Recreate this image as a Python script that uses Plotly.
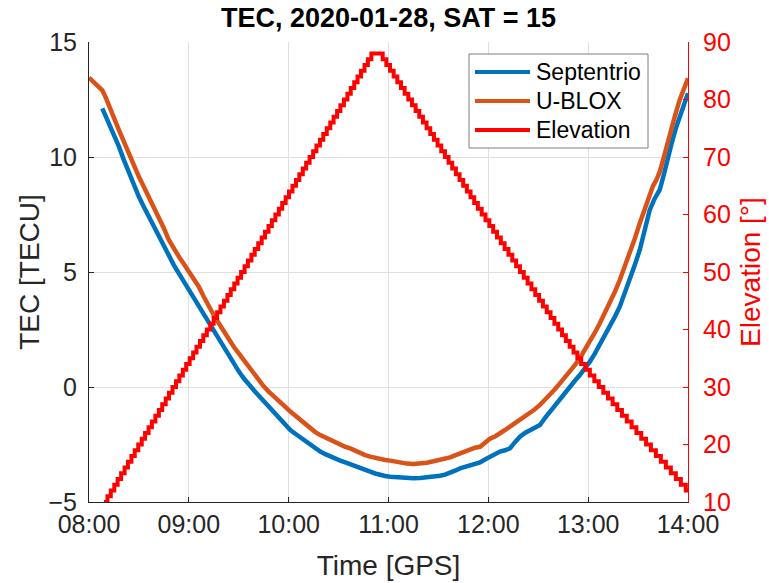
import pandas as pd
import plotly.graph_objects as go

DAY_START = pd.Timestamp("2020-01-28 08:00:00")

# --- Septentrio TEC (minutes after 08:00 GPS, TECU) ---
sept_min = [8, 10, 12, 15, 18, 21, 24, 27, 30, 33, 36, 39, 42, 45, 48, 51, 54, 57, 60,
            63, 66, 69, 72, 75, 78, 81, 84, 87, 90, 93, 96, 100, 104, 108, 112, 115, 118,
            121, 124, 127, 130, 133, 136, 139, 142, 145, 148, 151, 154, 157, 160, 163,
            166, 169, 172, 175, 178, 181, 184, 187, 191, 195, 199, 203, 207, 211, 214,
            217, 220, 223, 226, 229, 232, 235, 238, 241, 244, 247, 250, 253, 256, 259,
            262, 265, 268, 271, 274, 277, 280, 283, 286, 289, 292, 295, 298, 301, 304,
            307, 310, 313, 316, 319, 322, 325, 328, 331, 334, 337, 340, 343, 345, 347,
            350, 353, 356, 358, 360]
sept_tec = [12.11, 11.8, 11.46, 10.95, 10.45, 9.86, 9.29, 8.78, 8.27, 7.83, 7.4, 6.97,
            6.54, 6.1, 5.67, 5.3, 4.94, 4.58, 4.22, 3.85, 3.49, 3.13, 2.77, 2.4, 2.04,
            1.69, 1.34, 1.0, 0.68, 0.38, 0.11, -0.22, -0.53, -0.84, -1.16, -1.43, -1.65,
            -1.87, -2.03, -2.19, -2.36, -2.52, -2.67, -2.81, -2.92, -3.03, -3.12, -3.2,
            -3.28, -3.35, -3.42, -3.49, -3.59, -3.68, -3.76, -3.83, -3.87, -3.9, -3.92,
            -3.94, -3.96, -3.97, -3.96, -3.94, -3.9, -3.86, -3.81, -3.75, -3.64, -3.54,
            -3.48, -3.43, -3.35, -3.28, -3.15, -3.03, -2.92, -2.81, -2.75, -2.67, -2.4,
            -2.16, -2.0, -1.87, -1.77, -1.65, -1.35, -1.07, -0.82, -0.57, -0.28, 0.01,
            0.27, 0.52, 0.8, 1.1, 1.45, 1.83, 2.22, 2.62, 3.05, 3.49, 4.05, 4.65, 5.3,
            5.96, 6.85, 7.7, 8.2, 8.57, 9.1, 9.72, 10.55, 11.32, 11.95, 12.35, 12.77]

# --- U-BLOX TEC ---
ublox_min = [0, 2, 4, 6, 8, 10, 12, 15, 18, 21, 24, 27, 30, 33, 36, 39, 42, 45, 48, 51,
             54, 57, 60, 63, 66, 69, 72, 75, 78, 81, 84, 87, 90, 93, 96, 99, 102, 105,
             108, 112, 115, 118, 121, 124, 127, 130, 133, 136, 139, 142, 145, 148, 151,
             154, 157, 160, 163, 166, 169, 172, 175, 178, 181, 184, 187, 191, 195, 199,
             203, 207, 211, 214, 217, 220, 223, 226, 229, 232, 235, 238, 241, 244, 247,
             250, 253, 256, 259, 262, 265, 268, 271, 274, 277, 280, 283, 286, 289, 292,
             295, 298, 301, 304, 307, 310, 313, 316, 319, 322, 325, 328, 331, 334, 337,
             339, 341, 343, 345, 347, 349, 352, 355, 358, 360]
ublox_tec = [13.45, 13.3, 13.15, 13.05, 12.9, 12.6, 12.2, 11.7, 11.17, 10.65, 10.16,
             9.65, 9.14, 8.7, 8.27, 7.85, 7.4, 6.9, 6.39, 6.0, 5.67, 5.35, 5.01, 4.7,
             4.36, 3.92, 3.49, 3.12, 2.77, 2.4, 2.04, 1.75, 1.46, 1.17, 0.88, 0.58, 0.3,
             0.03, -0.2, -0.49, -0.64, -0.86, -1.07, -1.25, -1.43, -1.62, -1.8, -1.96,
             -2.09, -2.2, -2.3, -2.41, -2.52, -2.6, -2.67, -2.78, -2.88, -2.96, -3.03,
             -3.09, -3.14, -3.17, -3.2, -3.25, -3.29, -3.33, -3.35, -3.33, -3.29, -3.23,
             -3.17, -3.11, -3.06, -2.97, -2.88, -2.8, -2.71, -2.64, -2.6, -2.42, -2.25,
             -2.15, -2.03, -1.87, -1.72, -1.57, -1.43, -1.29, -1.14, -0.97, -0.78, -0.57,
             -0.35, -0.1, 0.16, 0.41, 0.67, 0.95, 1.25, 1.6, 1.97, 2.36, 2.77, 3.2, 3.64,
             4.13, 4.65, 5.22, 5.81, 6.45, 7.12, 7.78, 8.42, 8.75, 9.0, 9.35, 9.87, 10.45,
             11.03, 11.75, 12.48, 13.05, 13.42]

# --- Satellite elevation: minute at which each whole degree is reached ---
elev_min = [9.0, 11.1, 13.1, 15.2, 17.2, 19.3, 21.4, 23.4, 25.5, 27.5, 29.6, 31.7, 33.7,
            35.8, 37.8, 39.9, 42.0, 44.0, 46.1, 48.1, 50.2, 52.3, 54.3, 56.4, 58.4, 60.5,
            62.6, 64.6, 66.7, 68.7, 70.8, 72.9, 74.9, 77.0, 79.0, 81.1, 83.2, 85.2, 87.3,
            89.3, 91.4, 93.5, 95.5, 97.6, 99.6, 101.7, 103.8, 105.8, 107.9, 109.9, 112.0,
            114.1, 116.1, 118.2, 120.2, 122.3, 124.4, 126.4, 128.5, 130.5, 132.6, 134.7,
            136.7, 138.8, 140.8, 142.9, 145.0, 147.0, 149.1, 151.1, 153.2, 155.3, 157.3,
            159.4, 161.4, 163.5, 165.6, 167.6, 169.7,
            176.5, 178.7, 180.9, 183.1, 185.3, 187.5, 189.7, 191.9, 194.1, 196.3, 198.5,
            200.7, 202.9, 205.1, 207.3, 209.5, 211.7, 213.9, 216.1, 218.3, 220.5, 222.7,
            224.9, 227.1, 229.3, 231.5, 233.7, 236.0, 238.3, 240.6, 242.9, 245.2, 247.5,
            249.8, 252.1, 254.4, 256.7, 259.0, 261.3, 263.6, 265.9, 268.2, 270.5, 272.8,
            275.1, 277.4, 279.7, 282.0, 284.3, 286.6, 288.9, 291.2, 293.5, 295.8, 298.4,
            301.0, 303.7, 306.4, 309.1, 311.9, 314.7, 317.5, 320.3, 323.2, 326.1, 329.0,
            331.9, 334.8, 337.7, 340.7, 343.7, 346.7, 349.7, 352.7, 355.7, 358.7, 360.0]
elev_deg = [10, 11, 12, 13, 14, 15, 16, 17, 18, 19, 20, 21, 22, 23, 24, 25, 26, 27, 28,
            29, 30, 31, 32, 33, 34, 35, 36, 37, 38, 39, 40, 41, 42, 43, 44, 45, 46, 47,
            48, 49, 50, 51, 52, 53, 54, 55, 56, 57, 58, 59, 60, 61, 62, 63, 64, 65, 66,
            67, 68, 69, 70, 71, 72, 73, 74, 75, 76, 77, 78, 79, 80, 81, 82, 83, 84, 85,
            86, 87, 88,
            87, 86, 85, 84, 83, 82, 81, 80, 79, 78, 77, 76, 75, 74, 73, 72, 71, 70, 69,
            68, 67, 66, 65, 64, 63, 62, 61, 60, 59, 58, 57, 56, 55, 54, 53, 52, 51, 50,
            49, 48, 47, 46, 45, 44, 43, 42, 41, 40, 39, 38, 37, 36, 35, 34, 33, 32, 31,
            30, 29, 28, 27, 26, 25, 24, 23, 22, 21, 20, 19, 18, 17, 16, 15, 14, 13, 12, 12]

series_names = ["Septentrio", "U-BLOX", "Elevation"]


def to_time(minutes):
    return DAY_START + pd.to_timedelta(minutes, unit="min")


BLUE = "#0072BD"
ORANGE = "#D95319"
RED = "#FF0000"
INK = "#262626"
GRID = "#DFDFDF"
FONT = "Liberation Sans, Arial, Helvetica, sans-serif"
series_colors = [BLUE, ORANGE, RED]

fig = go.Figure()
fig.add_trace(go.Scatter(x=to_time(sept_min), y=sept_tec, name=series_names[0],
                         mode="lines", line=dict(color=BLUE, width=4.5), showlegend=False))
fig.add_trace(go.Scatter(x=to_time(ublox_min), y=ublox_tec, name=series_names[1],
                         mode="lines", line=dict(color=ORANGE, width=4.5), showlegend=False))
fig.add_trace(go.Scatter(x=to_time(elev_min), y=elev_deg, name=series_names[2], yaxis="y2",
                         mode="lines", line=dict(color=RED, width=4, shape="hv"),
                         showlegend=False))

# Legend box in the upper right of the axes (paper coordinates of the plot area)
PLOT_L, PLOT_R, PLOT_T, PLOT_B = 89, 688, 42, 502


def px_x(px):
    return (px - PLOT_L) / (PLOT_R - PLOT_L)


def px_y(py):
    return (PLOT_B - py) / (PLOT_B - PLOT_T)


shapes = [dict(type="rect", xref="paper", yref="paper", layer="above",
               x0=px_x(469), x1=px_x(648), y0=px_y(148), y1=px_y(54),
               fillcolor="white", line=dict(color="#7F7F7F", width=1))]
annotations = []
for i, (name, color) in enumerate(zip(series_names, series_colors)):
    row_y = 72 + 29 * i
    shapes.append(dict(type="line", xref="paper", yref="paper", layer="above",
                       x0=px_x(475), x1=px_x(530), y0=px_y(row_y), y1=px_y(row_y),
                       line=dict(color=color, width=4)))
    annotations.append(dict(text=name, xref="paper", yref="paper", showarrow=False,
                            x=px_x(534), y=px_y(row_y), xanchor="left", yanchor="middle",
                            font=dict(size=23, color="black", family=FONT)))

fig.update_layout(
    width=769, height=583,
    margin=dict(l=PLOT_L, r=769 - PLOT_R, t=PLOT_T, b=583 - PLOT_B, autoexpand=False),
    paper_bgcolor="white", plot_bgcolor="white",
    font=dict(family=FONT, color=INK),
    showlegend=False,
    shapes=shapes,
    annotations=annotations,
    title=dict(text="<b>TEC, 2020-01-28, SAT = 15</b>", x=0.5, xref="paper",
               xanchor="center", y=1 - 18 / 583, yref="container", yanchor="middle",
               font=dict(size=27, color="black")),
    xaxis=dict(
        type="date", automargin=False,
        range=[DAY_START, DAY_START + pd.Timedelta(hours=6)],
        dtick=3600000, tickformat="%H:%M",
        showgrid=True, gridcolor=GRID, gridwidth=1,
        showline=True, linecolor=INK, linewidth=1,
        ticks="inside", ticklen=5, tickcolor=INK,
        tickfont=dict(size=25, color=INK),
        title=dict(text="Time [GPS]", font=dict(size=28, color=INK), standoff=18),
        zeroline=False,
    ),
    yaxis=dict(
        range=[-5, 15], dtick=5, automargin=False,
        showgrid=True, gridcolor=GRID, gridwidth=1,
        showline=True, linecolor=INK, linewidth=1,
        ticks="inside", ticklen=5, tickcolor=INK,
        tickfont=dict(size=25, color=INK),
        ticklabelstandoff=6,
        title=dict(text="TEC [TECU]", font=dict(size=28, color=INK), standoff=0),
        zeroline=False,
    ),
    yaxis2=dict(
        overlaying="y", side="right", automargin=False,
        range=[10, 90], dtick=10,
        showgrid=False, zeroline=False,
        showline=True, linecolor=RED, linewidth=1,
        ticks="inside", ticklen=5, tickcolor=RED,
        tickfont=dict(size=25, color=RED),
        ticklabelstandoff=9,
        title=dict(text="Elevation [°]", font=dict(size=28, color=RED), standoff=10),
    ),
)

fig.write_html("out.html")
